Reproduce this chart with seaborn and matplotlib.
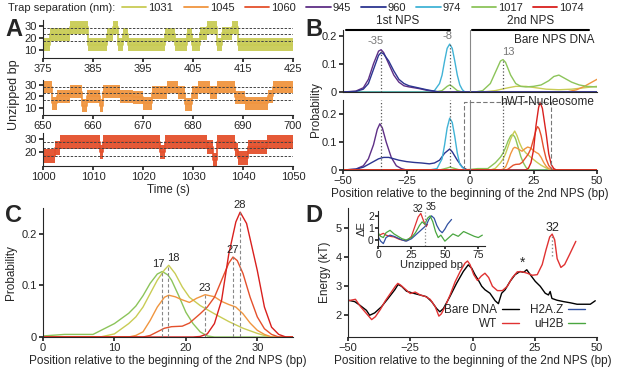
import numpy as np
import pandas as pd
import seaborn as sns
import matplotlib.pyplot as plt
from matplotlib.lines import Line2D
from matplotlib.transforms import blended_transform_factory

# ---------------- data ----------------
trap_labels = ["1031", "1045", "1060", "945", "960", "974", "1017", "1074"]
colors = {
    "945": "#5e2f86", "960": "#2c3590", "974": "#41b3d6", "1017": "#8cc45a",
    "1031": "#c9cc55", "1045": "#f0953f", "1060": "#e4502c", "1074": "#d9201e",
}

# panel A: dwell segments (start time, level in bp)
a1_t = [375, 376.3, 380.3, 384, 387.7, 389.0, 390, 391, 392, 399.3, 401.3, 403.7,
        404.7, 406.3, 407.7, 409.7, 410.7, 412.7, 414, 425]
a1_lvl = [14, 23, 29, 14, 23, 29, 14, 23, 14, 23, 14, 23, 14, 24, 29, 14, 24, 29, 14, 14]
a2_t = [650, 651.7, 652.7, 655.3, 657.7, 658.7, 661.3, 662, 665.3, 668, 670, 671.7,
        674.7, 677, 678.3, 679.7, 681, 683.3, 684.7, 688.3, 690.3, 695, 696, 700]
a2_lvl = [28, 14, 20, 24, 12, 20, 12, 24, 20, 19, 14, 23, 28, 23, 13, 23, 28, 23, 28,
          19, 14, 20, 28, 28]
a3_t = [1000, 1002.3, 1003.3, 1011.3, 1012, 1023.3, 1024.3, 1032.7, 1034, 1034.7,
        1038.3, 1039, 1041, 1044.7, 1050]
a3_lvl = [17, 23, 28, 20, 28, 20, 28, 24, 14, 28, 22, 15, 24, 28, 28]
a_dash = [17, 23, 28]

# panel B top: bare NPS DNA
bt_pos_945 = [-50, -45, -42, -40, -38, -36, -35, -34, -32, -30, -28, -26, -24, -22, -20, -17, -14, -12, 50]
bt_945 = [0, 0.003, 0.015, 0.045, 0.1, 0.145, 0.15, 0.14, 0.1, 0.06, 0.035, 0.022, 0.018, 0.015, 0.012, 0.006, 0.002, 0, 0]
bt_960 = [0, 0.002, 0.01, 0.03, 0.08, 0.13, 0.14, 0.135, 0.11, 0.075, 0.045, 0.03, 0.022, 0.018, 0.014, 0.008, 0.003, 0, 0]
bt_pos_974 = [-50, -16, -14, -12, -11, -10, -9, -8, -7, -6, -5, -4, -3, -2, 50]
bt_974 = [0, 0, 0.005, 0.03, 0.06, 0.11, 0.155, 0.17, 0.155, 0.11, 0.06, 0.025, 0.008, 0, 0]
bt_pos_1017 = [-50, -14, -11, -9, -8, -7, -5, -3, 2, 5, 8, 10, 12, 13, 14, 16, 18, 20, 22, 25,
               28, 31, 33, 35, 37, 40, 43, 46, 50]
bt_1017 = [0, 0, 0.005, 0.02, 0.025, 0.02, 0.005, 0, 0, 0.005, 0.03, 0.07, 0.11, 0.115, 0.105,
           0.06, 0.03, 0.02, 0.018, 0.02, 0.025, 0.04, 0.055, 0.06, 0.05, 0.035, 0.025, 0.02, 0.018]
bt_pos_1031 = [-50, 5, 10, 15, 18, 22, 26, 30, 35, 40, 45, 50]
bt_1031 = [0, 0, 0.005, 0.015, 0.02, 0.02, 0.015, 0.01, 0.008, 0.01, 0.015, 0.02]
bt_pos_1045 = [-50, 38, 42, 45, 48, 50]
bt_1045 = [0, 0, 0.008, 0.02, 0.035, 0.045]
bt_pos_zero = [-50, 50]
bt_zero = [0, 0]

# panel B bottom: first NPS part (hWT nucleosome)
bb_pos_945 = [-50, -45, -42, -40, -38, -36.5, -35.5, -34.5, -33, -31, -29, -27, -25, 50]
bb_945 = [0, 0.003, 0.015, 0.04, 0.09, 0.145, 0.165, 0.15, 0.1, 0.045, 0.015, 0.005, 0, 0]
bb_pos_960 = [-50, -45, -42, -40, -38, -36, -34, -32, -30, -28, -25, -22, -19, -16, -14, -12,
              -10, -8, -7, -5, -3, -1, 50]
bb_960 = [0, 0.003, 0.01, 0.02, 0.03, 0.04, 0.045, 0.045, 0.04, 0.035, 0.03, 0.027, 0.025,
          0.022, 0.025, 0.035, 0.06, 0.075, 0.065, 0.035, 0.01, 0, 0]
bb_pos_974 = [-50, -16, -13, -11, -10, -9, -8, -7, -6, -5, -4, -2, 50]
bb_974 = [0, 0, 0.005, 0.04, 0.09, 0.15, 0.185, 0.17, 0.12, 0.06, 0.02, 0, 0]
bb_pos_1017_first = [-50, -12, -9, -8, -7, -4]
bb_1017_first = [0, 0, 0.007, 0.01, 0.008, 0]

# panel C: second NPS (also bottom of B)
c_pos_1017 = [0, 3, 7, 8, 10, 12, 13, 14, 15, 16, 16.7, 17.5, 18, 19, 20, 21, 22, 23, 24, 35]
c_1017 = [0.002, 0.005, 0.005, 0.012, 0.026, 0.046, 0.06, 0.08, 0.104, 0.122, 0.127, 0.12,
          0.11, 0.08, 0.048, 0.026, 0.01, 0.002, 0, 0]
c_pos_1031 = [0, 8, 10, 12, 13, 14, 15, 16, 17, 17.6, 18.5, 19.5, 20.5, 22, 24, 26, 28, 30, 31, 32, 35]
c_1031 = [0, 0, 0.006, 0.026, 0.039, 0.058, 0.084, 0.11, 0.13, 0.139, 0.123, 0.097, 0.077,
          0.061, 0.045, 0.03, 0.017, 0.007, 0.003, 0, 0]
c_pos_1045 = [0, 12, 13, 14, 15, 16, 17, 17.6, 18.5, 19.5, 20.5, 21.5, 22.7, 24, 25, 26, 27,
              28, 29, 30, 31, 32, 35]
c_1045 = [0, 0, 0.003, 0.01, 0.032, 0.058, 0.077, 0.081, 0.078, 0.072, 0.067, 0.075, 0.082,
          0.078, 0.069, 0.063, 0.058, 0.045, 0.027, 0.013, 0.005, 0, 0]
c_pos_1060 = [0, 14, 15, 16, 17, 18, 19.5, 20.5, 22, 23, 24, 25, 26, 26.6, 27.2, 28, 29, 30,
              31, 32, 33, 35]
c_1060 = [0, 0, 0.003, 0.01, 0.017, 0.02, 0.021, 0.027, 0.045, 0.058, 0.077, 0.11, 0.143,
          0.155, 0.148, 0.123, 0.077, 0.039, 0.016, 0.005, 0, 0]
c_pos_1074 = [0, 21, 22, 23, 24, 25, 26, 27, 27.6, 28.5, 29, 30, 31, 32, 33, 34, 35]
c_1074 = [0, 0, 0.001, 0.006, 0.026, 0.071, 0.16, 0.223, 0.242, 0.22, 0.19, 0.129, 0.058,
          0.019, 0.005, 0, 0]
c_peaks = [16.7, 17.5, 22.7, 26.6, 27.6]
c_peak_vals = [0.127, 0.139, 0.082, 0.155, 0.242]
c_peak_labels = ["17", "18", "23", "27", "28"]

# panel D: energy landscape
d_pos_bare = [-50, -47.3, -45.3, -42.6, -41.3, -39.3, -36.6, -33.9, -31.2, -29.9, -28.5, -26.5,
              -23.8, -21.1, -18.5, -16.4, -14.4, -13.1, -11.7, -9.1, -6.4, -3.7, -1.7, -0.3,
              1.0, 2.3, 3.7, 5.0, 7.0, 9.1, 10.4, 11.7, 13.1, 15.1, 17.1, 19.1, 20.5, 21.8,
              23.2, 25.2, 27.2, 29.2, 30.5, 31.2, 31.9, 33.9, 36.6, 39.3, 42.0, 44.6, 47.3, 49.3]
d_bare = [2.52, 2.47, 2.35, 2.17, 2.0, 2.08, 2.29, 2.58, 2.88, 3.06, 3.0, 2.83, 2.76, 2.7,
          2.64, 2.47, 2.23, 2.12, 2.23, 2.64, 3.1, 3.51, 3.74, 3.62, 3.4, 3.22, 3.0, 2.88,
          2.76, 2.5, 2.4, 2.76, 2.88, 3.17, 3.4, 3.51, 3.48, 3.57, 3.4, 3.17, 3.0, 2.76, 2.7,
          2.82, 2.58, 2.52, 2.47, 2.43, 2.38, 2.38, 2.38, 2.5]
d_pos_wt = [-50, -47, -45, -43, -41.5, -40.5, -39, -37, -35, -33, -31, -30, -29, -27, -25,
            -23, -21, -19, -17, -15, -13.5, -12.5, -11, -9, -7, -5, -3, -2, -1, 0.5, 2, 3.5,
            5, 6.5, 8, 10, 12, 14, 16, 18, 20, 22, 24, 26, 28, 29.5, 31, 32, 33, 34, 35.5,
            37, 39, 41.5]
d_wt = [2.5, 2.55, 2.3, 2.1, 1.95, 1.85, 1.95, 2.2, 2.5, 2.75, 3.0, 3.1, 3.05, 2.9, 2.75,
        2.8, 2.7, 2.65, 2.55, 2.3, 1.97, 2.05, 2.3, 2.7, 3.15, 3.5, 3.8, 3.87, 3.75, 3.4,
        3.2, 3.35, 3.45, 3.3, 3.0, 2.85, 2.85, 3.0, 3.3, 3.5, 3.5, 3.45, 3.38, 3.4, 3.75,
        4.25, 4.7, 4.8, 4.6, 3.95, 3.65, 3.75, 4.1, 4.55]
ins_pos_wt = [0, 2, 4, 6, 9, 12, 16, 20, 22, 25, 27.5, 30, 32, 34, 36, 37]
ins_wt = [0.3, 0.45, 0.55, 0.4, 0.3, 0.25, 0.05, -0.05, -0.05, 0.3, 1.1, 1.9, 2.2, 1.6, 1.1, 1.3]
ins_pos_h2az = [0, 2, 4, 6, 9, 12, 15, 18, 21, 25, 28, 31, 34, 36, 38, 40, 42, 44, 46, 48,
                50, 52, 55]
ins_h2az = [0.3, -0.1, -0.3, 0.2, 0.4, 0.3, 0.15, 0.0, -0.1, 0.1, 0.4, 0.7, 1.0, 1.2, 1.7,
            2.0, 1.8, 1.2, 0.8, 0.6, 0.9, 1.3, 1.7]
ins_pos_uh2b = [0, 2, 4, 6, 9, 12, 15, 18, 21, 25, 28, 31, 33, 35, 37, 39, 41, 43, 45, 47,
                50, 53, 56, 60, 64, 68, 72, 75, 78]
ins_uh2b = [0.6, 0.3, 0.2, 0.6, 0.8, 0.5, 0.3, 0.1, 0.0, 0.2, 0.6, 1.2, 1.5, 1.3, 1.8, 2.0,
            1.5, 0.7, 0.2, 0.4, -0.1, 0.2, 0.5, 0.3, 0.7, 0.5, 0.3, 0.2, 0.4]

d_colors = {"Bare DNA": "black", "WT": "#e03232", "H2A.Z": "#3050a0", "uH2B": "#4aa640"}

# ---------------- style ----------------
sns.set_theme(style="ticks")
plt.rcParams["font.family"] = ["Liberation Sans", "DejaVu Sans"]
plt.rcParams.update({
    "font.size": 8, "axes.labelsize": 8.5, "xtick.labelsize": 8, "ytick.labelsize": 8,
    "xtick.major.size": 3, "ytick.major.size": 3, "axes.linewidth": 0.8,
    "xtick.major.pad": 1.5, "ytick.major.pad": 1.5,
})

W, H = 617, 368
fig = plt.figure(figsize=(W / 100, H / 100), dpi=100)


def px_axes(x0, y0, x1, y1):
    return fig.add_axes([x0 / W, 1 - y1 / H, (x1 - x0) / W, (y1 - y0) / H])


def despine(ax):
    ax.spines["top"].set_visible(False)
    ax.spines["right"].set_visible(False)


# ---------------- panel A ----------------
rows = [
    (a1_t, a1_lvl, "1031", (20, 58), (3, 35), [10, 20, 30], [375, 385, 395, 405, 415, 425]),
    (a2_t, a2_lvl, "1045", (80, 115), (4, 34), [10, 20, 30], [650, 660, 670, 680, 690, 700]),
    (a3_t, a3_lvl, "1060", (133, 166), (9, 35), [20, 30], [1000, 1010, 1020, 1030, 1040, 1050]),
]
for i, (t, lvl, key, (y0, y1), ylim, yt, xt) in enumerate(rows):
    ax = px_axes(43, y0, 293, y1)
    lvl = np.array(lvl, dtype=float)
    ax.fill_between(t, lvl - 5.5, lvl + 5.5, step="post", color=colors[key], lw=0, alpha=0.95)
    ax.step(t, lvl, where="post", color=colors[key], lw=1.2)
    for d in a_dash:
        ax.axhline(d, color="#444444", ls=(0, (2.5, 1.5)), lw=0.7)
    ax.set_xlim(xt[0], xt[-1])
    ax.set_ylim(*ylim)
    ax.set_yticks(yt)
    ax.set_xticks(xt)
    despine(ax)
    if i == 2:
        ax.set_xlabel("Time (s)", labelpad=1)

fig.text(14 / W, 1 - 95 / H, "Unzipped bp", rotation=90, va="center", ha="center", fontsize=9)

# legend row
fig.text(8 / W, 1 - 8 / H, "Trap separation (nm):", va="center", ha="left", fontsize=8)
handles = [Line2D([0], [0], color=colors[k], lw=1.3) for k in trap_labels]
fig.legend(handles, trap_labels, ncol=8, loc="center left", bbox_to_anchor=(122 / W, 1 - 8 / H),
           frameon=False, fontsize=8, handlelength=2.2, handletextpad=0.15, columnspacing=0.95,
           borderaxespad=0, borderpad=0)

# ---------------- panel B ----------------
axbt = px_axes(343, 30, 597, 92)
axbb = px_axes(343, 100, 597, 170)

top_series = [
    ("1060", bt_pos_zero, bt_zero), ("1074", bt_pos_zero, bt_zero),
    ("1031", bt_pos_1031, bt_1031), ("1045", bt_pos_1045, bt_1045),
    ("1017", bt_pos_1017, bt_1017), ("974", bt_pos_974, bt_974),
    ("945", bt_pos_945, bt_945), ("960", bt_pos_945, bt_960),
]
for key, xs, ys in top_series:
    sns.lineplot(x=xs, y=ys, ax=axbt, color=colors[key], lw=1.0)


def join(first_x, first_y, second_x, second_y):
    return list(first_x) + list(second_x) + [50], list(first_y) + list(second_y) + [0]


bot_series = [
    ("945", bb_pos_945, bb_945), ("960", bb_pos_960, bb_960), ("974", bb_pos_974, bb_974),
    ("1017", *join(bb_pos_1017_first, bb_1017_first, c_pos_1017, c_1017)),
    ("1031", *join([-50], [0], c_pos_1031, c_1031)),
    ("1045", *join([-50], [0], c_pos_1045, c_1045)),
    ("1060", *join([-50], [0], c_pos_1060, c_1060)),
    ("1074", *join([-50], [0], c_pos_1074, c_1074)),
]
for key, xs, ys in bot_series:
    sns.lineplot(x=xs, y=ys, ax=axbb, color=colors[key], lw=1.0)

for ax, ylim in [(axbt, 0.22), (axbb, 0.25)]:
    ax.set_xlim(-50, 50)
    ax.set_ylim(0, ylim)
    ax.set_yticks([0, 0.1, 0.2])
    ax.set_yticklabels(["0", "0.1", "0.2"])
    ax.set_xticks([-50, -25, 0, 25, 50])
    ax.axvline(0, color="#888888", lw=0.8)
    despine(ax)
axbt.tick_params(axis="x", labelbottom=False, length=0)
axbb.set_xlabel("Position relative to the beginning of the 2nd NPS (bp)", labelpad=1)

for xv, ytop in [(-35, 0.15), (-8, 0.17), (13, 0.115)]:
    axbt.plot([xv, xv], [0, ytop], color="#555555", ls=":", lw=0.9)
    axbb.plot([xv, xv], [0, 0.25], color="#555555", ls=":", lw=0.9)
axbt.text(-37, 0.162, "-35", color="#777777", ha="center", va="bottom", fontsize=8)
axbt.text(-9, 0.182, "-8", color="#777777", ha="center", va="bottom", fontsize=8)
axbt.text(15, 0.125, "13", color="#777777", ha="center", va="bottom", fontsize=8)
axbt.text(49, 0.205, "Bare NPS DNA", ha="right", va="top", fontsize=8.5)

axbb.plot([-2.5, -2.5, 32, 32, -2.5], [0, 0.243, 0.243, 0, 0], color="#777777",
          ls=(0, (4, 2)), lw=0.8)
axbb.text(49, 0.243, "hWT-Nucleosome", ha="right", va="center", fontsize=8.5)

tr = blended_transform_factory(axbt.transData, axbt.transAxes)
axbt.plot([-49, -8], [1.0, 1.0], color="black", lw=1.5, transform=tr, clip_on=False)
axbt.plot([0.7, 46.7], [1.0, 1.0], color="black", lw=1.5, transform=tr, clip_on=False)
axbt.text(-28.5, 1.05, "1st NPS", transform=tr, ha="center", va="bottom", fontsize=8.5)
axbt.text(23.7, 1.05, "2nd NPS", transform=tr, ha="center", va="bottom", fontsize=8.5)
fig.text(316 / W, 1 - 110 / H, "Probability", rotation=90, va="center", ha="center", fontsize=8.5)

# ---------------- panel C ----------------
axc = px_axes(43, 208, 293, 337)
for key, xs, ys in [("1017", c_pos_1017, c_1017), ("1031", c_pos_1031, c_1031),
                    ("1045", c_pos_1045, c_1045), ("1060", c_pos_1060, c_1060),
                    ("1074", c_pos_1074, c_1074)]:
    sns.lineplot(x=xs, y=ys, ax=axc, color=colors[key], lw=1.0)
for xv, yv, lab in zip(c_peaks, c_peak_vals, c_peak_labels):
    axc.plot([xv, xv], [0, yv], color="#888888", ls=(0, (3, 2)), lw=0.8)
ha_map = {"17": "right", "18": "left", "23": "center", "27": "center", "28": "center"}
dx_map = {"17": 0.3, "18": -0.1, "23": 0, "27": 0, "28": 0}
for xv, yv, lab in zip(c_peaks, c_peak_vals, c_peak_labels):
    axc.text(xv + dx_map[lab], yv + 0.004, lab, ha=ha_map[lab], va="bottom", fontsize=8)
axc.set_xlim(0, 35)
axc.set_ylim(0, 0.25)
axc.set_xticks([0, 10, 20, 30])
axc.set_yticks([0, 0.1, 0.2])
axc.set_yticklabels(["0", "0.1", "0.2"])
axc.set_xlabel("Position relative to the beginning of the 2nd NPS (bp)", labelpad=1)
axc.set_ylabel("Probability", labelpad=3)
despine(axc)

# ---------------- panel D ----------------
axd = px_axes(348, 208, 597, 337)
sns.lineplot(x=d_pos_bare, y=d_bare, ax=axd, color=d_colors["Bare DNA"], lw=1.0)
sns.lineplot(x=d_pos_wt, y=d_wt, ax=axd, color=d_colors["WT"], lw=1.0)
axd.plot([32, 32], [4.05, 4.75], color="#888888", ls=":", lw=1.0)
axd.text(32, 4.82, "32", ha="center", va="bottom", fontsize=9)
axd.text(20, 3.58, "*", ha="center", va="bottom", fontsize=10)
axd.set_xlim(-50, 50)
axd.set_ylim(1.25, 5.7)
axd.set_xticks([-50, -25, 0, 25, 50])
axd.set_yticks([2, 3, 4, 5])
axd.set_xlabel("Position relative to the beginning of the 2nd NPS (bp)", labelpad=1)
axd.set_ylabel("Energy (kT)", labelpad=3)
despine(axd)
leg_names = ["Bare DNA", "WT", "H2A.Z", "uH2B"]
leg_h = [Line2D([0], [0], color=d_colors[n], lw=1.0) for n in leg_names]
axd.legend(leg_h, leg_names, ncol=2, loc="lower right", bbox_to_anchor=(0.98, 0.0),
           frameon=False, fontsize=8.5, markerfirst=False, handlelength=1.4,
           handletextpad=0.4, columnspacing=1.0, labelspacing=0.15, borderaxespad=0.2)

axi = px_axes(378, 211, 485, 246)
sns.lineplot(x=ins_pos_wt, y=ins_wt, ax=axi, color=d_colors["WT"], lw=0.9)
sns.lineplot(x=ins_pos_h2az, y=ins_h2az, ax=axi, color=d_colors["H2A.Z"], lw=0.9)
sns.lineplot(x=ins_pos_uh2b, y=ins_uh2b, ax=axi, color=d_colors["uH2B"], lw=0.9)
axi.plot([35, 35], [-0.5, 2.3], color="#888888", ls=":", lw=0.9)
axi.text(34, 2.15, "32", ha="right", va="bottom", fontsize=7)
axi.text(35.5, 2.35, "35", ha="left", va="bottom", fontsize=7)
axi.set_xlim(0, 80)
axi.set_ylim(-0.5, 2.4)
axi.set_xticks([0, 25, 50, 75])
axi.set_yticks([0, 1, 2])
axi.tick_params(labelsize=7.5, length=2, pad=1)
axi.set_xlabel("Unzipped bp", fontsize=8, labelpad=0)
axi.set_ylabel("ΔE", fontsize=8, labelpad=1)
axi.patch.set_alpha(0)
despine(axi)

# panel letters
for lab, x, y in [("A", 5, 30), ("B", 305, 30), ("C", 5, 215), ("D", 305, 215)]:
    fig.text(x / W, 1 - y / H, lab, fontsize=17, fontweight="bold", va="center", ha="left")

fig.savefig("out.png", dpi=100)
